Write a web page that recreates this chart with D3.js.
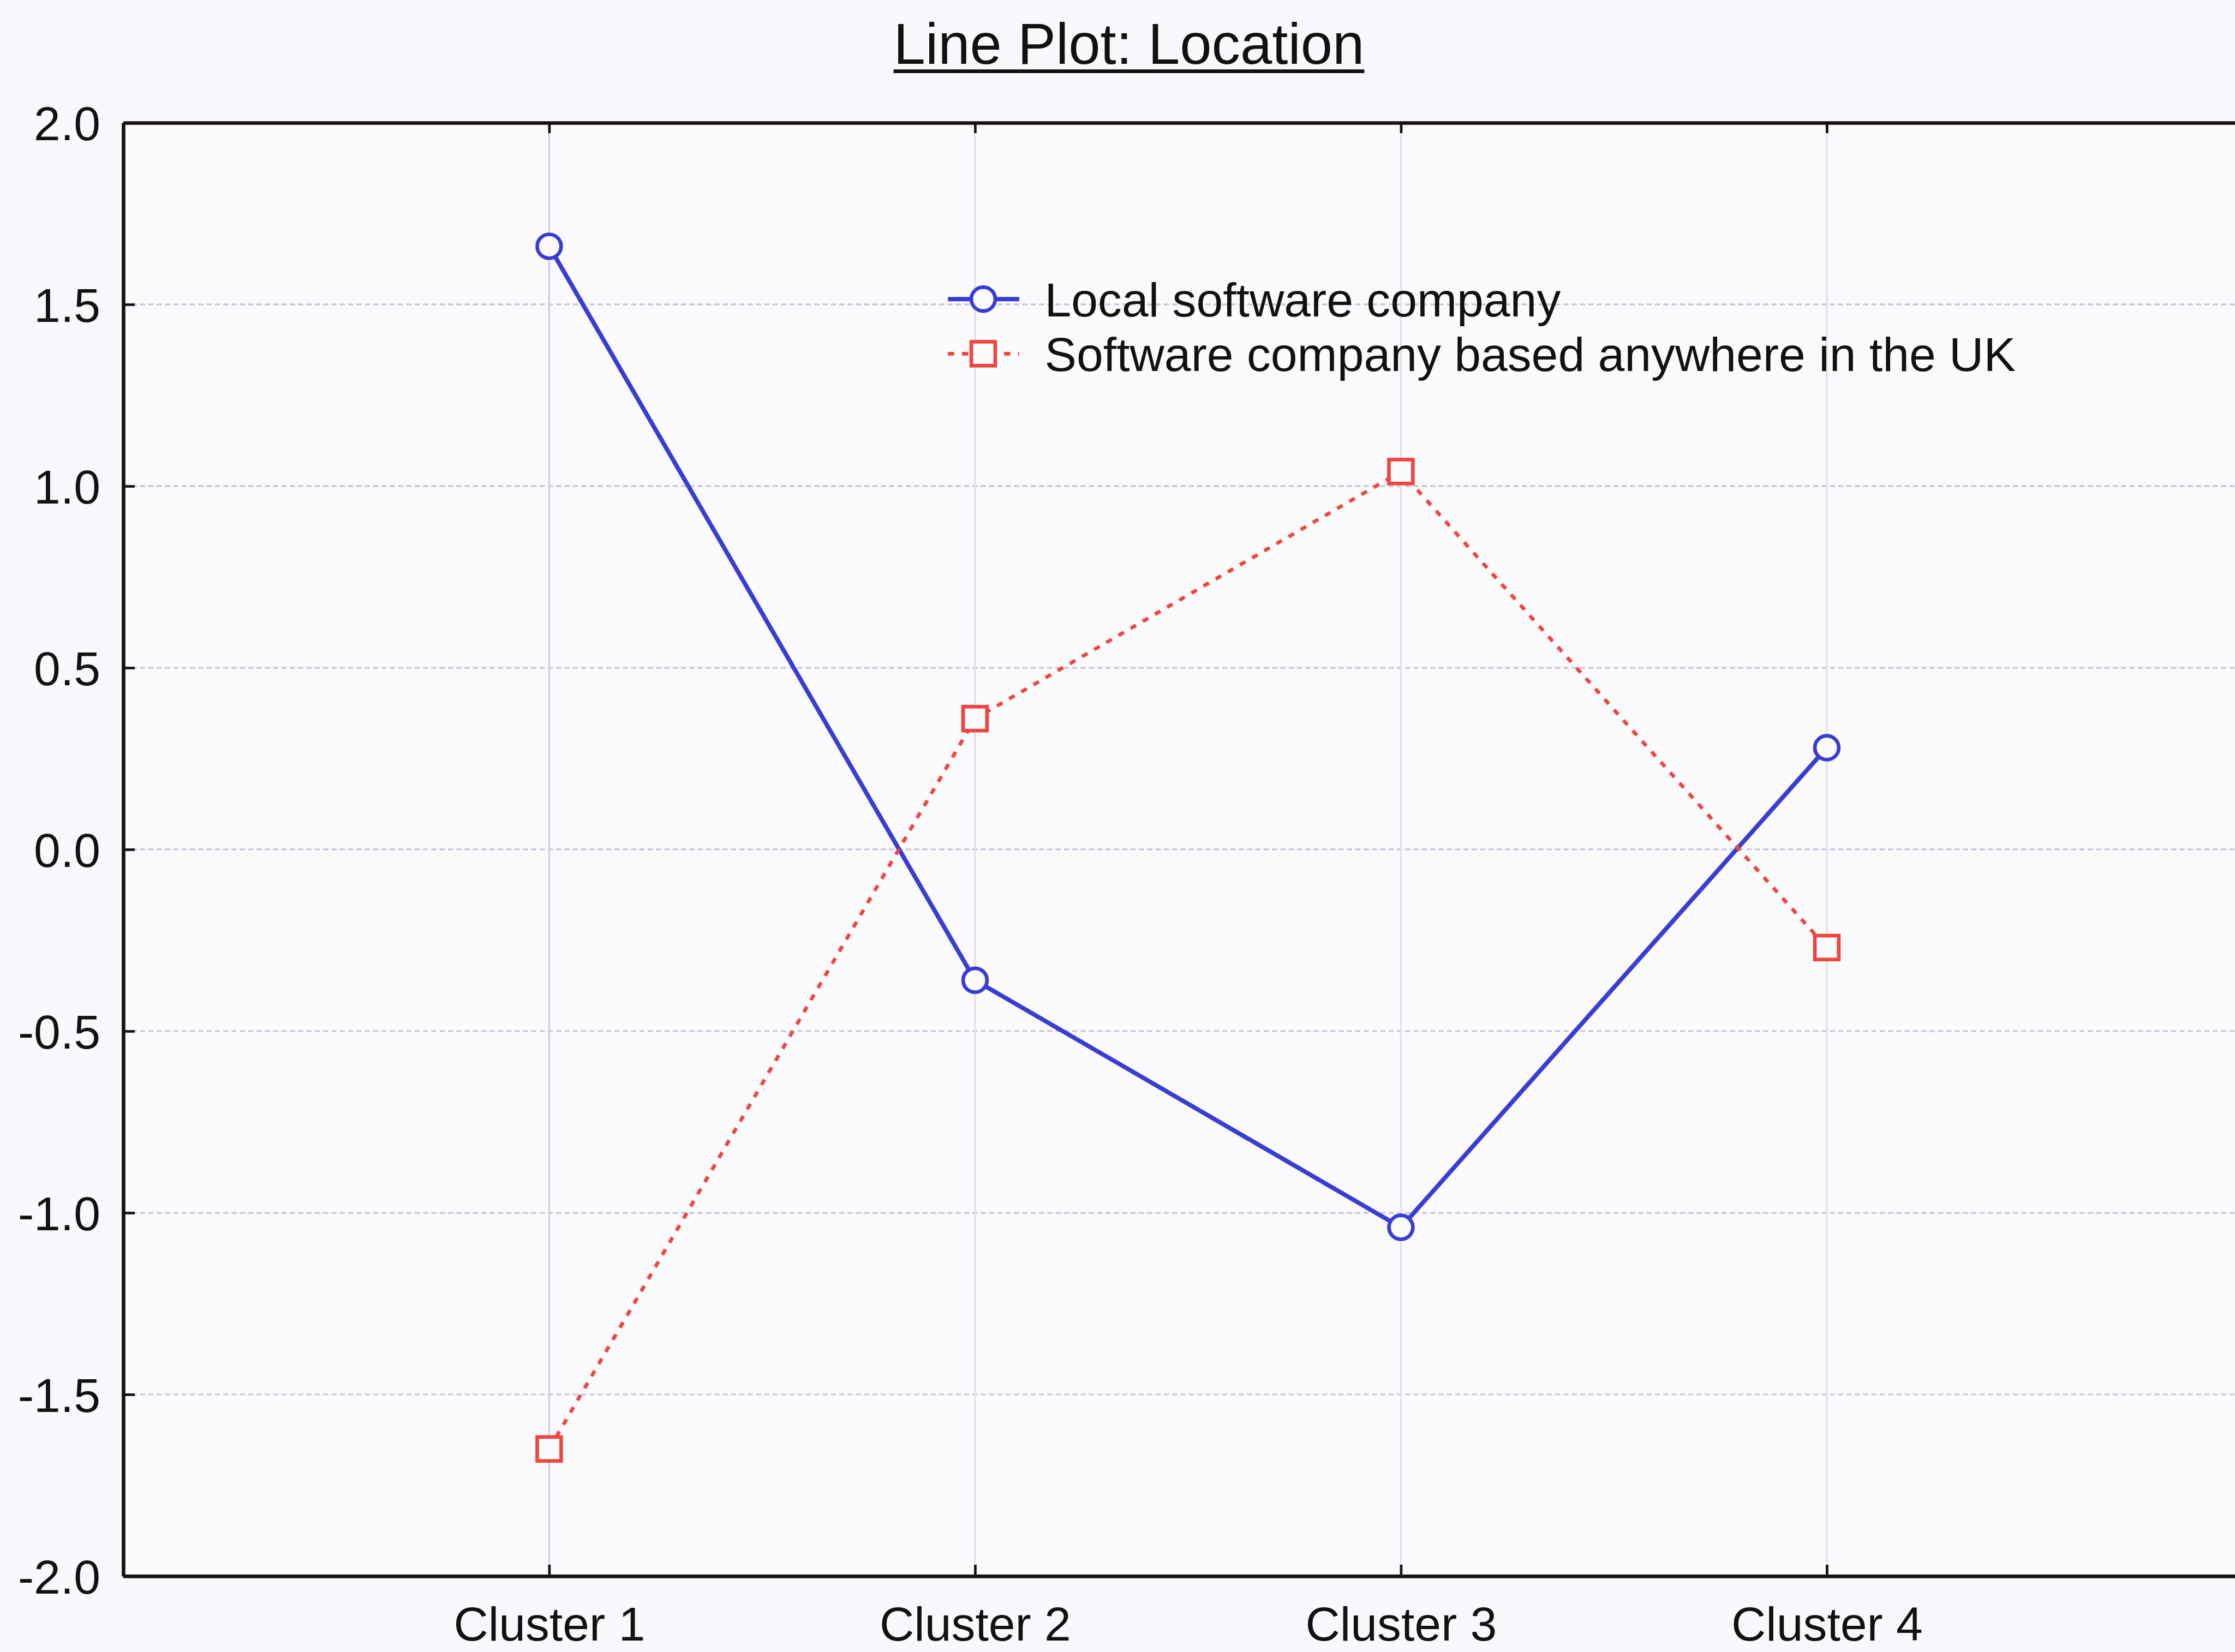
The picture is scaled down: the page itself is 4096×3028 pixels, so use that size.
<!DOCTYPE html>
<html>
<head>
<meta charset="utf-8">
<script src="https://cdn.jsdelivr.net/npm/d3@7"></script>
<style>
  html, body { margin: 0; padding: 0; background: #f9f9fd; }
  svg { display: block; }
  text { font-family: "Liberation Sans", Arial, Helvetica, sans-serif; fill: #141010; }
</style>
</head>
<body>
<svg id="chart" width="4096" height="3028"></svg>
<script>
// ---- data ----
const chartTitle = "Line Plot: Location";
const categories = ["Cluster 1", "Cluster 2", "Cluster 3", "Cluster 4"];
const seriesNames = ["Local software company", "Software company based anywhere in the UK"];
const localValues = [1.66, -0.36, -1.04, 0.28];
const ukValues = [-1.65, 0.36, 1.04, -0.27];
const yTicks = [-2.0, -1.5, -1.0, -0.5, 0.0, 0.5, 1.0, 1.5, 2.0];

(function () {
// ---- layout (reference pixel units, scaled to window) ----
const S = 4096 / 4296;
const pLeft = 237, pTop = 236, pBottom = 3030, pRight = 4330;

const svg = d3.select("#chart");
svg.append("rect").attr("width", 4096).attr("height", 3028).attr("fill", "#f9f9fd");
const g = svg.append("g").attr("transform", `scale(${S})`);

const x = d3.scalePoint().domain(categories).range([pLeft, pRight]).padding(1);
const y = d3.scaleLinear().domain([-2, 2]).range([pBottom, pTop]);

// plot background
g.append("rect").attr("x", pLeft).attr("y", pTop).attr("width", pRight - pLeft).attr("height", pBottom - pTop)
  .attr("fill", "#fbfbfe");

// gridlines
g.append("g").selectAll("line").data(yTicks.filter(d => d > -2 && d < 2)).join("line")
  .attr("x1", pLeft).attr("x2", pRight).attr("y1", d => y(d)).attr("y2", d => y(d))
  .attr("stroke", "#c9cadb").attr("stroke-width", 3.5).attr("stroke-dasharray", "10,6");
g.append("g").selectAll("line").data(categories).join("line")
  .attr("x1", d => x(d)).attr("x2", d => x(d)).attr("y1", pTop).attr("y2", pBottom)
  .attr("stroke", (d, i) => i === 0 ? "#cfd0e6" : "#e2e2ee").attr("stroke-width", 3.5);

// axes
const axisColor = "#1a1212";
const yAxis = g.append("g").attr("transform", `translate(${pLeft},0)`)
  .call(d3.axisLeft(y).tickValues(yTicks).tickFormat(d => d.toFixed(1)).tickSizeInner(-22).tickSizeOuter(0).tickPadding(44));
const xAxis = g.append("g").attr("transform", `translate(0,${pBottom})`)
  .call(d3.axisBottom(x).tickSizeInner(-22).tickSizeOuter(0).tickPadding(58));
const xTop = g.append("g").attr("transform", `translate(0,${pTop})`)
  .call(d3.axisTop(x).tickSizeInner(-20).tickSizeOuter(0).tickFormat(""));
[yAxis, xAxis, xTop].forEach(a => {
  a.select(".domain").attr("stroke", axisColor).attr("stroke-width", 7);
  a.selectAll(".tick line").attr("stroke", axisColor).attr("stroke-width", 5);
  a.selectAll(".tick text").attr("font-size", 92).attr("fill", "#141010")
    .style("font-family", '"Liberation Sans", Arial, sans-serif');
});
yAxis.selectAll(".tick text").attr("dy", "0.36em");

// lines
const blue = "#3a3dd4", red = "#f0463f";
const line = d3.line().x((d, i) => x(categories[i])).y(d => y(d));
g.append("path").datum(localValues).attr("d", line).attr("fill", "none")
  .attr("stroke", blue).attr("stroke-width", 8.5);
g.append("path").datum(ukValues).attr("d", line).attr("fill", "none")
  .attr("stroke", red).attr("stroke-width", 7).attr("stroke-dasharray", "12,15");

// markers
const r = 23, sq = 46;
g.append("g").selectAll("circle").data(localValues).join("circle")
  .attr("cx", (d, i) => x(categories[i])).attr("cy", d => y(d)).attr("r", r)
  .attr("fill", "#fbfbfe").attr("stroke", blue).attr("stroke-width", 7);
g.append("g").selectAll("rect").data(ukValues).join("rect")
  .attr("x", (d, i) => x(categories[i]) - sq / 2).attr("y", d => y(d) - sq / 2)
  .attr("width", sq).attr("height", sq)
  .attr("fill", "#fbfbfe").attr("stroke", red).attr("stroke-width", 7);

// legend
const lgX = 1822, lgY = 575, lgDy = 105;
const lg = g.append("g");
seriesNames.forEach((name, i) => {
  const yy = lgY + i * lgDy;
  const col = i === 0 ? blue : red;
  lg.append("line").attr("x1", lgX).attr("x2", lgX + 137).attr("y1", yy).attr("y2", yy)
    .attr("stroke", col).attr("stroke-width", i === 0 ? 8.5 : 7)
    .attr("stroke-dasharray", i === 0 ? null : "12,15");
  if (i === 0) {
    lg.append("circle").attr("cx", lgX + 68).attr("cy", yy).attr("r", r)
      .attr("fill", "#fbfbfe").attr("stroke", col).attr("stroke-width", 7);
  } else {
    lg.append("rect").attr("x", lgX + 68 - sq / 2).attr("y", yy - sq / 2).attr("width", sq).attr("height", sq)
      .attr("fill", "#fbfbfe").attr("stroke", col).attr("stroke-width", 7);
  }
  lg.append("text").attr("x", lgX + 186).attr("y", yy).attr("dy", "0.36em")
    .attr("font-size", 92).text(name);
});

// title with underline
const t = g.append("text").attr("x", 2170).attr("y", 123).attr("text-anchor", "middle")
  .attr("font-size", 110).text(chartTitle);
const tw = t.node().getComputedTextLength();
g.append("line").attr("x1", 2170 - tw / 2).attr("x2", 2170 + tw / 2).attr("y1", 137).attr("y2", 137)
  .attr("stroke", "#141010").attr("stroke-width", 7);
})();
</script>
</body>
</html>
